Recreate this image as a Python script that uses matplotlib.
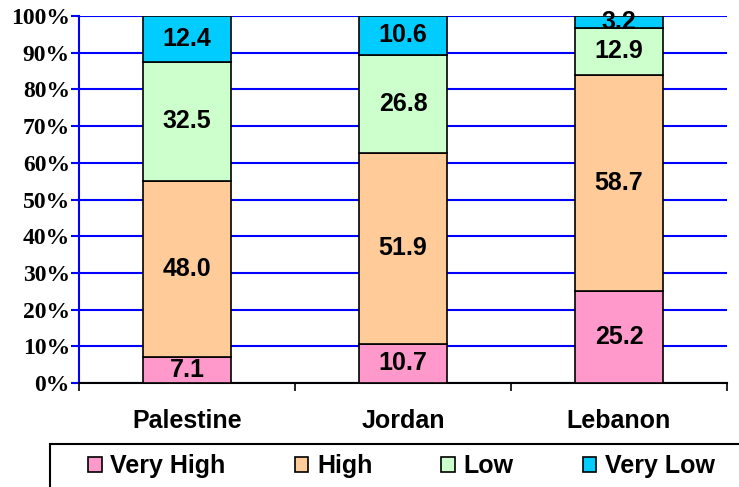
import numpy as np
import matplotlib.pyplot as plt
from matplotlib.patches import Rectangle
from matplotlib.ticker import FuncFormatter

countries = ['Palestine', 'Jordan', 'Lebanon']
levels = ['Very High', 'High', 'Low', 'Very Low']
very_high = [7.1, 10.7, 25.2]
high = [48.0, 51.9, 58.7]
low = [32.5, 26.8, 12.9]
very_low = [12.4, 10.6, 3.2]
colors = ['#FF99CC', '#FFCC99', '#CCFFCC', '#00CCFF']

fig = plt.figure(figsize=(7.39, 4.87), dpi=100)
ax = fig.add_axes([79 / 739, 104 / 487, 648 / 739, 367 / 487])

x = np.arange(len(countries))
bottom = np.zeros(len(countries))
for name, vals, c in zip(levels, [very_high, high, low, very_low], colors):
    vals = np.array(vals)
    ax.bar(x, vals, 0.41, bottom=bottom, color=c, edgecolor='black',
           linewidth=1.2, label=name, zorder=3)
    for xi, b, v in zip(x, bottom, vals):
        ax.text(xi, b + v / 2, f'{v:.1f}', ha='center', va='center',
                fontsize=18, fontweight='bold', family='Liberation Sans', zorder=4)
    bottom += vals

ax.set_xlim(-0.5, 2.5)
ax.set_ylim(0, 100)
ax.set_yticks(np.arange(0, 101, 10))
ax.yaxis.set_major_formatter(FuncFormatter(lambda v, p: f'{v:.0f}%'))
ax.grid(axis='y', color='#0000FF', linewidth=1.5, zorder=0)
ax.tick_params(axis='y', color='#0000FF', width=1.5, length=6, pad=0.5)
for lab in ax.get_yticklabels():
    lab.set_family('Liberation Serif')
    lab.set_fontweight('bold')
    lab.set_fontsize(17)

ax.set_xticks(x)
ax.set_xticklabels(countries, fontsize=18, fontweight='bold', family='Liberation Sans')
ax.set_xticks([-0.5, 0.5, 1.5, 2.5], minor=True)
ax.tick_params(axis='x', which='major', length=0, pad=19)
ax.tick_params(axis='x', which='minor', length=6, width=1.2, color='black')

for s in ['top', 'right']:
    ax.spines[s].set_visible(False)
ax.spines['left'].set_color('#0000FF')
ax.spines['left'].set_linewidth(1.5)
ax.spines['bottom'].set_linewidth(1.5)

# legend box running off the right and bottom edges
fig.patches.append(Rectangle((50 / 739, -0.1), 0.96, 0.1 + 1 - 444 / 487,
                             transform=fig.transFigure, fill=False,
                             edgecolor='black', linewidth=1.5))
fig.legend(loc='center left', bbox_to_anchor=(88 / 739, 1 - 466 / 487),
           ncol=4, frameon=False, handlelength=0.55, handleheight=0.55,
           handletextpad=0.35, columnspacing=2.75, borderpad=0, borderaxespad=0,
           prop={'family': 'Liberation Sans', 'weight': 'bold', 'size': 18})

fig.savefig('out.png', dpi=100)
